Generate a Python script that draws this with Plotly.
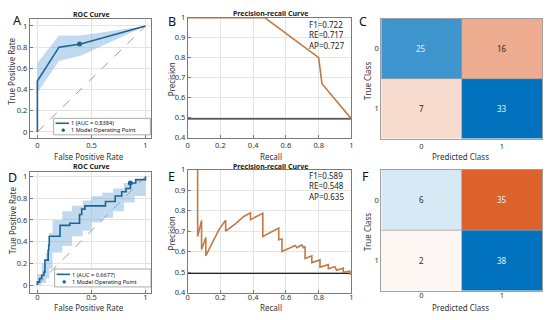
import numpy as np
import plotly.graph_objects as go

# ---------------- data ----------------
# Panel A: ROC
fpr_A = [0, 0, 0.2, 0.4, 1.0]
tpr_A = [0, 0.48, 0.80, 0.83, 1.0]
band_x_A = [0, 0.2, 0.4, 1.0]
band_hi_A = [0.65, 0.91, 0.91, 1.0]
band_lo_A = [0.37, 0.67, 0.72, 1.0]
op_A = (0.39, 0.83)
auc_A = 0.8384

# Panel B: precision-recall
rec_B = [0, 0.47, 0.80, 0.82, 1.0]
prec_B = [1.0, 1.0, 0.80, 0.67, 0.494]
stats_B = {"F1": "0.722", "RE": "0.717", "AP": "0.727"}

# Panel C: confusion matrix
cm_C = [[25, 16], [7, 33]]

# Panel D: ROC (stepped)
fpr_D = [0, 0, 0.02, 0.04, 0.06, 0.07, 0.10, 0.105, 0.11, 0.21, 0.30, 0.39, 0.41, 0.44, 0.63, 0.72, 0.78, 0.82, 0.86, 0.91, 1.0, 1.0]
tpr_D = [0, 0.03, 0.06, 0.09, 0.12, 0.23, 0.32, 0.37, 0.45, 0.55, 0.57, 0.65, 0.70, 0.73, 0.77, 0.82, 0.86, 0.89, 0.94, 0.97, 0.985, 1.0]
band_x_D = [0, 0.04, 0.08, 0.11, 0.14, 0.23, 0.32, 0.42, 0.50, 0.60, 0.70, 0.80, 0.90, 1.0]
band_hi_D = [0.10, 0.20, 0.30, 0.48, 0.60, 0.68, 0.73, 0.78, 0.82, 0.85, 0.89, 0.94, 0.985, 1.0]
band_lo_D = [0, 0.02, 0.06, 0.15, 0.30, 0.36, 0.45, 0.50, 0.58, 0.62, 0.68, 0.76, 0.82, 0.86]
op_D = (0.86, 0.94)
auc_D = 0.6677

# Panel E: precision-recall
rec_E = [0.061, 0.061, 0.085, 0.085, 0.111, 0.111, 0.152, 0.192, 0.232, 0.232, 0.293, 0.343, 0.384, 0.384,
         0.42, 0.459, 0.459, 0.51, 0.556, 0.556, 0.576, 0.576, 0.62, 0.657, 0.667, 0.697, 0.707, 0.717, 0.717,
         0.758, 0.758, 0.808, 0.808, 0.859, 0.859, 0.899, 0.909, 0.95, 0.95, 0.99, 0.99, 1.0]
prec_E = [1.0, 0.674, 0.753, 0.611, 0.669, 0.58, 0.646, 0.709, 0.753, 0.70, 0.737, 0.772, 0.79, 0.756,
          0.772, 0.787, 0.674, 0.695, 0.715, 0.658, 0.662, 0.601, 0.615, 0.63, 0.62, 0.633, 0.62, 0.625, 0.567,
          0.58, 0.547, 0.56, 0.525, 0.537, 0.517, 0.527, 0.51, 0.52, 0.50, 0.505, 0.49, 0.496]
stats_E = {"F1": "0.589", "RE": "0.548", "AP": "0.635"}

# Panel F: confusion matrix
cm_F = [[6, 35], [2, 38]]

baseline = 0.494
class_labels = ["0", "1"]

# ---------------- style ----------------
FONT = "Noto Sans"
ROC_COL = "#1d6493"
BAND_COL = "rgba(110,168,220,0.42)"
PR_COL = "#c07a45"
GRID = "#e4e4e4"
BOX = "#7a7a7a"
W, H = 550, 320

fig = go.Figure()

def px_x(p):
    return p / W

def px_y(p):
    return 1 - p / H

dom = {
    1: ([28, 150], [14, 137]),
    2: ([187, 352], [13, 137]),
    3: ([382, 544], [14, 138]),
    4: ([28, 150], [172, 297]),
    5: ([187, 352], [170, 297]),
    6: ([382, 544], [170, 295]),
}

def ax_names(i):
    s = "" if i == 1 else str(i)
    return "x" + s, "y" + s, "xaxis" + s, "yaxis" + s

def add_roc(i, fpr, tpr, bx, blo, bhi, op, auc, shape):
    xr, yr, _, _ = ax_names(i)
    fig.add_trace(go.Scatter(x=bx, y=blo, mode="lines", line=dict(width=0, shape=shape),
                             showlegend=False, hoverinfo="skip", xaxis=xr, yaxis=yr))
    fig.add_trace(go.Scatter(x=bx, y=bhi, mode="lines", line=dict(width=0, shape=shape),
                             fill="tonexty", fillcolor=BAND_COL,
                             showlegend=False, hoverinfo="skip", xaxis=xr, yaxis=yr))
    fig.add_trace(go.Scatter(x=[0, 1], y=[0, 1], mode="lines",
                             line=dict(color="#9c9c9c", width=1, dash="dash"),
                             showlegend=False, xaxis=xr, yaxis=yr))
    fig.add_trace(go.Scatter(x=fpr, y=tpr, mode="lines", line=dict(color=ROC_COL, width=1.6, shape=shape),
                             name=f"1 (AUC = {auc})", showlegend=False, xaxis=xr, yaxis=yr))
    fig.add_trace(go.Scatter(x=[op[0]], y=[op[1]], mode="markers",
                             marker=dict(color=ROC_COL, size=5),
                             name="1 Model Operating Point", showlegend=False, xaxis=xr, yaxis=yr))

def add_pr(i, rec, prec):
    xr, yr, _, _ = ax_names(i)
    fig.add_trace(go.Scatter(x=[0, 1], y=[baseline, baseline], mode="lines",
                             line=dict(color="#222222", width=1.3), showlegend=False, xaxis=xr, yaxis=yr))
    fig.add_trace(go.Scatter(x=rec, y=prec, mode="lines", line=dict(color=PR_COL, width=1.6),
                             showlegend=False, xaxis=xr, yaxis=yr))

def add_cm(i, cm):
    xr, yr, _, _ = ax_names(i)
    cm = np.array(cm)
    sign = np.where(np.eye(2, dtype=bool), 1, -1)
    m = cm.max()
    fig.add_trace(go.Heatmap(z=cm * sign, x=[0, 1], y=[0, 1],
                             colorscale=[[0, "#D95319"], [0.5, "#ffffff"], [1, "#0072BD"]],
                             zmin=-m, zmax=m, showscale=False, xaxis=xr, yaxis=yr))
    for r in range(2):
        for c in range(2):
            col = "#eaf2fb" if cm[r, c] / m > 0.6 else "#2a2a2a"
            fig.add_annotation(x=c, y=r, xref=xr, yref=yr, text=str(cm[r, c]), showarrow=False,
                               font=dict(family=FONT, size=8, color=col))

add_roc(1, fpr_A, tpr_A, band_x_A, band_lo_A, band_hi_A, op_A, auc_A, "linear")
add_pr(2, rec_B, prec_B)
add_cm(3, cm_C)
add_roc(4, fpr_D, tpr_D, band_x_D, band_lo_D, band_hi_D, op_D, auc_D, "hv")
add_pr(5, rec_E, prec_E)
add_cm(6, cm_F)

tickfont = dict(family=FONT, size=7.5, color="#333333")
layout = dict(width=W, height=H, margin=dict(l=0, r=0, t=0, b=0),
              paper_bgcolor="white", plot_bgcolor="white", showlegend=False)

for i, (xd, yd) in dom.items():
    _, _, xa, ya = ax_names(i)
    base = dict(showline=True, mirror=True, linecolor=BOX, linewidth=0.8, ticks="inside",
                ticklen=3, tickcolor=BOX, tickfont=tickfont, zeroline=False,
                showgrid=True, gridcolor=GRID, gridwidth=0.6)
    xa_d = dict(base, domain=[px_x(xd[0]), px_x(xd[1])], anchor="y" + ("" if i == 1 else str(i)))
    ya_d = dict(base, domain=[px_y(yd[1]), px_y(yd[0])], anchor="x" + ("" if i == 1 else str(i)))
    if i >= 4:
        xa_d.update(ticklabelstandoff=-3)
    if i in (1, 4):
        xa_d.update(range=[-0.07, 1.05], tickvals=[0, 0.5, 1], ticktext=["0", "0.5", "1"])
        yr_ = [-0.055, 1.07] if i == 1 else [-0.07, 1.045]
        ya_d.update(range=yr_, tickvals=[0, 0.2, 0.4, 0.6, 0.8, 1],
                    ticktext=["0", "0.2", "0.4", "0.6", "0.8", "1"])
    elif i in (2, 5):
        xa_d.update(range=[0, 1], tickvals=[0, 0.2, 0.4, 0.6, 0.8, 1],
                    ticktext=["0", "0.2", "0.4", "0.6", "0.8", "1"])
        ya_d.update(range=[0.4, 1], tickvals=[0.4, 0.5, 0.6, 0.7, 0.8, 0.9, 1],
                    ticktext=["0.4", "0.5", "0.6", "0.7", "0.8", "0.9", "1"])
    else:
        xa_d.update(range=[-0.5, 1.5], tickvals=[0, 1], ticktext=class_labels, showgrid=False,
                    ticks="", linecolor="#a0a0a0")
        ya_d.update(range=[1.5, -0.5], tickvals=[0, 1], ticktext=class_labels, showgrid=False,
                    ticks="", linecolor="#a0a0a0")
    layout[xa] = xa_d
    layout[ya] = ya_d

fig.update_layout(**layout)

# divider lines in confusion matrices
for i in (3, 6):
    xr, yr, _, _ = ax_names(i)
    fig.add_shape(type="line", x0=-0.5, x1=1.5, y0=0.5, y1=0.5, xref=xr, yref=yr,
                  line=dict(color="#a0a0a0", width=0.8))
    fig.add_shape(type="line", x0=0.5, x1=0.5, y0=-0.5, y1=1.5, xref=xr, yref=yr,
                  line=dict(color="#a0a0a0", width=0.8))

def ann(x, y, text, size=8.5, bold=False, angle=0, xanchor="center", color="#333333", align="center"):
    t = f"<b>{text}</b>" if bold else text
    fig.add_annotation(x=px_x(x), y=px_y(y), xref="paper", yref="paper", text=t, showarrow=False,
                       textangle=angle, xanchor=xanchor, yanchor="middle", align=align, borderpad=0,
                       font=dict(family=FONT, size=size, color=color))

# legends (drawn as a framed key inside each ROC panel)
def draw_legend(box, auc):
    x0, y0, x1, y1 = box
    fig.add_shape(type="rect", xref="paper", yref="paper", x0=px_x(x0), x1=px_x(x1),
                  y0=px_y(y1), y1=px_y(y0), line=dict(color="#8a8a8a", width=0.7),
                  fillcolor="white", layer="above")
    r1 = y0 + (y1 - y0) * 0.30
    r2 = y0 + (y1 - y0) * 0.72
    fig.add_shape(type="line", xref="paper", yref="paper", x0=px_x(x0 + 2), x1=px_x(x0 + 15.5),
                  y0=px_y(r1), y1=px_y(r1), line=dict(color=ROC_COL, width=1.6), layer="above")
    cx = x0 + 9.7
    fig.add_shape(type="circle", xref="paper", yref="paper", x0=px_x(cx - 1.5), x1=px_x(cx + 1.5),
                  y0=px_y(r2 + 1.5), y1=px_y(r2 - 1.5), line=dict(color=ROC_COL, width=0.5),
                  fillcolor=ROC_COL, layer="above")
    ann(x0 + 17, (r1 + r2) / 2, f"1 (AUC = {auc})<br>1 Model Operating Point", size=5.6,
        xanchor="left", color="#111111", align="left")

draw_legend((52, 117, 149.5, 134), auc_A)
draw_legend((53, 272.5, 150, 291), auc_D)

# panel letters
for letter, (lx, ly) in {"A": (15.5, 16.5), "B": (171, 17), "C": (364, 17),
                         "D": (10.5, 178), "E": (171, 177.5), "F": (366, 177)}.items():
    ann(lx, ly, letter, size=12.5, color="#111111")

# titles
ann(90, 9.5, "ROC Curve", size=7, bold=True, color="#222222")
ann(90, 167, "ROC Curve", size=7, bold=True, color="#222222")
ann(270, 9, "Precision-recall Curve", size=7, bold=True, color="#222222")
ann(270, 167, "Precision-recall Curve", size=7, bold=True, color="#222222")

# axis titles
ann(10, 68, "True Positive Rate", size=8, angle=-90)
ann(10, 222, "True Positive Rate", size=8, angle=-90)
ann(88, 156.5, "False Positive Rate", size=8)
ann(88, 312.5, "False Positive Rate", size=8)
ann(171, 77, "Precision", size=8, angle=-90)
ann(171, 236, "Precision", size=8, angle=-90)
ann(271, 156.5, "Recall", size=8)
ann(271, 312.5, "Recall", size=8)
ann(368, 78, "True Class", size=8, angle=-90)
ann(368, 234, "True Class", size=8, angle=-90)
ann(462, 156, "Predicted Class", size=8)
ann(462, 312, "Predicted Class", size=8)

# PR statistics
def stats_text(s):
    return "<br>".join(f"{k}={v}" for k, v in s.items())

ann(346, 31, stats_text(stats_B), size=8, xanchor="right", color="#222222", align="left")
ann(346, 187, stats_text(stats_E), size=8, xanchor="right", color="#222222", align="left")

fig.write_html("out.html", config={"displayModeBar": False},
               post_script="document.body.style.margin='0px';"
                           "document.documentElement.style.overflow='hidden';")
